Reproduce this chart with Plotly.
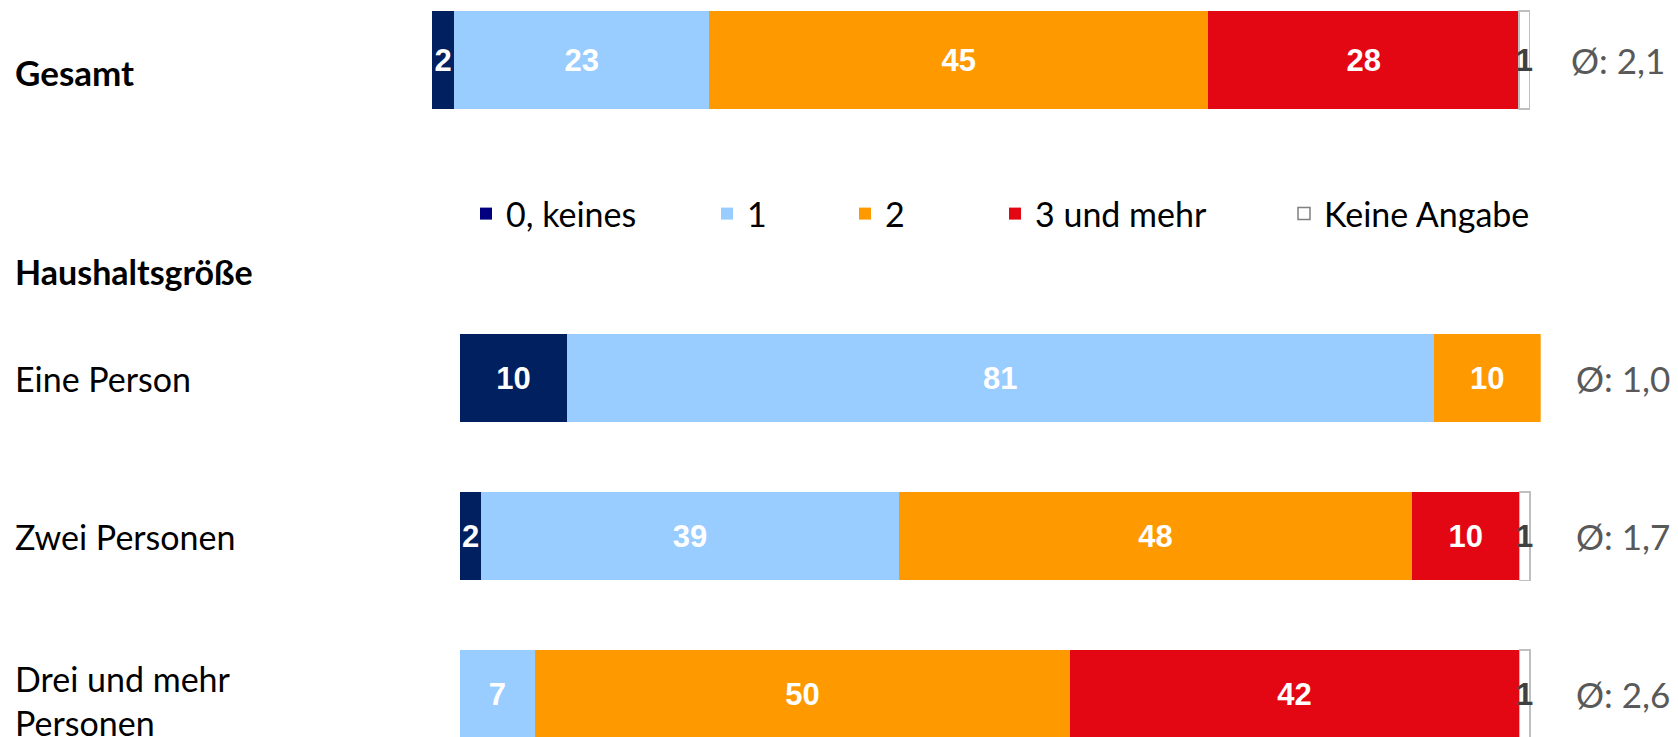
import plotly.graph_objects as go

# ---------------- data ----------------
series_names = ["0, keines", "1", "2", "3 und mehr", "Keine Angabe"]
series_colors = ["#002060", "#99CCFF", "#FF9900", "#E30613", "#FFFFFF"]
legend_colors = ["#000080", "#99CCFF", "#FF9900", "#E30613", "#FFFFFF"]

total_label = "Gesamt"
total_values = [2, 23, 45, 28, 1]
total_avg = "2,1"

group_title = "Haushaltsgröße"
groups = ["Eine Person", "Zwei Personen", "Drei und mehr<br>Personen"]
group_values = {
    "0, keines":    [10, 2, None],
    "1":            [81, 39, 7],
    "2":            [10, 48, 50],
    "3 und mehr":   [None, 10, 42],
    "Keine Angabe": [None, 1, 1],
}
group_avgs = ["1,0", "1,7", "2,6"]

# ---------------- styling ----------------
W, H = 1678, 737
OFF = 8  # page body margin compensation
LABEL_FONT = "Lato, Carlito, Calibri, sans-serif"
NUM_FONT = "Liberation Sans Narrow, Arial Narrow, Liberation Sans, Arial, sans-serif"
NUM_SIZE = 31
LEGEND_SYM_X = [484, 725, 863, 1013, 1302]  # left of legend symbols (page px)


def px_x(p):
    return (p - OFF) / W


def px_y(p):
    return 1 - (p - OFF) / H


fig = go.Figure()

for i, name in enumerate(series_names):
    is_na = name == "Keine Angabe"
    txtcol = "#404040" if is_na else "white"
    line = dict(color="#BFBFBF", width=1.5) if is_na else dict(width=0)
    tv = total_values[i]
    fig.add_trace(go.Bar(
        y=[total_label], x=[tv], orientation="h",
        xaxis="x2", yaxis="y2", width=0.82,
        marker=dict(color=series_colors[i], line=line),
        text=[str(tv) if tv else ""], textposition="inside",
        insidetextanchor="middle", textangle=0,
        textfont=dict(family=NUM_FONT, size=NUM_SIZE, color=txtcol, weight="bold"),
        cliponaxis=False, showlegend=False, legendgroup=name, name=name,
    ))
    vals = group_values[name]
    fig.add_trace(go.Bar(
        y=groups, x=vals, orientation="h",
        xaxis="x", yaxis="y", width=0.56,
        marker=dict(color=series_colors[i], line=line),
        text=[str(v) if v else "" for v in vals], textposition="inside",
        insidetextanchor="middle", textangle=0,
        textfont=dict(family=NUM_FONT, size=NUM_SIZE, color=txtcol, weight="bold"),
        cliponaxis=False, showlegend=False, legendgroup=name, name=name,
    ))
    lg = "legend" if i == 0 else f"legend{i + 1}"
    fig.add_trace(go.Bar(
        y=[None], x=[None], orientation="h", xaxis="x", yaxis="y",
        marker=dict(color=legend_colors[i],
                    line=dict(color="#808080", width=1.5) if is_na else dict(width=0)),
        name=name, legendgroup=name, showlegend=True, legend=lg,
    ))

legend_common = dict(orientation="h", xanchor="left", yanchor="middle",
                     font=dict(family=LABEL_FONT, size=34, color="black"),
                     bgcolor="rgba(0,0,0,0)")
legend_layout = {}
for i, sx in enumerate(LEGEND_SYM_X):
    key = "legend" if i == 0 else f"legend{i + 1}"
    legend_layout[key] = dict(legend_common, x=px_x(sx - 18), y=px_y(214))

annotations = []
annotations.append(dict(text="<b>" + total_label + "</b>", xref="paper", yref="y2",
                        x=px_x(13), y=0, yshift=-12, xanchor="left", yanchor="middle",
                        showarrow=False, font=dict(family=LABEL_FONT, size=35, color="black")))
annotations.append(dict(text="<b>" + group_title + "</b>", xref="paper", yref="paper",
                        x=px_x(13), y=px_y(271), xanchor="left", yanchor="middle",
                        showarrow=False, font=dict(family=LABEL_FONT, size=34, color="black")))
for k, g in enumerate(groups):
    annotations.append(dict(text=g, xref="paper", yref="y", x=px_x(13), y=k,
                            yshift=-6 if "<br>" in g else 0,
                            xanchor="left", yanchor="middle", align="left",
                            showarrow=False,
                            font=dict(family=LABEL_FONT, size=34, color="black")))
annotations.append(dict(text="Ø: " + total_avg, xref="paper", yref="y2", x=px_x(1569), y=0,
                        xanchor="left", yanchor="middle", showarrow=False,
                        font=dict(family=LABEL_FONT, size=35, color="#595959")))
for k, a in enumerate(group_avgs):
    annotations.append(dict(text="Ø: " + a, xref="paper", yref="y", x=px_x(1574), y=k,
                            xanchor="left", yanchor="middle", showarrow=False,
                            font=dict(family=LABEL_FONT, size=35, color="#595959")))

# total bar: centre at page y=60, 120 px per category unit
TOTAL_TOP, TOTAL_BOTTOM, TOTAL_CENTER, TOTAL_UNIT = OFF, 120, 60, 120.0

fig.update_layout(
    width=W, height=H,
    margin=dict(l=0, r=0, t=0, b=0),
    paper_bgcolor="white", plot_bgcolor="white",
    barmode="stack",
    showlegend=True,
    uniformtext=dict(minsize=NUM_SIZE, mode="show"),
    xaxis=dict(domain=[px_x(460), px_x(460 + 101 * 10.7)], range=[0, 101],
               visible=False, anchor="y"),
    yaxis=dict(domain=[0, px_y(299)], type="category", categoryarray=groups,
               categoryorder="array",
               range=[2 + (H + OFF - 694) / 158.5, -0.5], visible=False, anchor="x"),
    xaxis2=dict(domain=[px_x(432), px_x(1530)], range=[0, 99], visible=False, anchor="y2"),
    yaxis2=dict(domain=[px_y(TOTAL_BOTTOM), 1], type="category",
                range=[(TOTAL_BOTTOM - TOTAL_CENTER) / TOTAL_UNIT,
                       -(TOTAL_CENTER - TOTAL_TOP) / TOTAL_UNIT],
                visible=False, anchor="x2"),
    annotations=annotations,
    **legend_layout,
)

fig.write_html("out.html")
